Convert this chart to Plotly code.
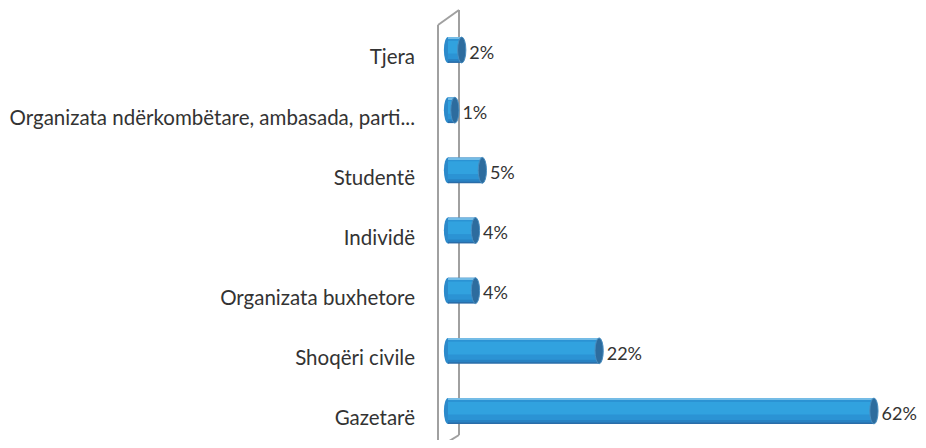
import plotly.graph_objects as go

categories = ["Gazetarë", "Shoqëri civile", "Organizata buxhetore", "Individë",
              "Studentë", "Organizata ndërkombëtare, ambasada, parti...", "Tjera"]
values = [62, 22, 4, 4, 5, 1, 2]
labels = [f"{v}%" for v in values]
ypos = list(range(len(categories)))

# page has an 8px body margin, so figure coordinates = page coordinates - 8
OFF = 8
W, H = 926 - 2 * OFF, 448 - 2 * OFF
L, R, T, B = 437 - OFF, 0, 10 - OFF, 0
ZERO_PX = 448          # page x of value 0
TOP_C, BOT_C = 50, 411  # page y of top / bottom bar centres
px_per_unit = 6.87
x0 = -((ZERO_PX - OFF) - L) / px_per_unit
x1 = x0 + (W - L - R) / px_per_unit
ypx = (BOT_C - TOP_C) / 6
y0 = -((H - B) - (BOT_C - OFF)) / ypx
y1 = 6 + ((TOP_C - OFF) - T) / ypx

HB = 0.215
CAP = 0.6
FONT = "Lato"

bands = [(-HB, HB, "#2A6CA8"), (-0.19, 0.205, "#2882C3"), (-0.15, 0.2, "#2B93D4"),
         (-0.06, 0.15, "#31A2DF"), (0.185, HB, "#74BCE6")]

fig = go.Figure()
for lo, hi, col in bands:
    fig.add_trace(go.Bar(y=ypos, x=values, orientation="h", width=hi - lo, offset=lo,
                         marker=dict(color=col, line=dict(width=0)), hoverinfo="skip"))
fig.add_trace(go.Scatter(y=[y - 0.07 for y in ypos], x=[v + CAP + 0.5 for v in values],
                         mode="text", text=labels, textposition="middle right",
                         cliponaxis=False,
                         textfont=dict(family=FONT, size=18, color="#333333"),
                         hoverinfo="skip"))

shapes = []
for yi, v in zip(ypos, values):
    shapes.append(dict(type="circle", xref="x", yref="y", layer="below",
                       x0=-CAP, x1=CAP, y0=yi - HB, y1=yi + HB,
                       fillcolor="#2B8ACB", line=dict(width=0)))
    shapes.append(dict(type="circle", xref="x", yref="y", layer="above",
                       x0=v - CAP, x1=v + CAP, y0=yi - HB, y1=yi + HB,
                       fillcolor="#2D6C9E", line=dict(color="#4A8EC0", width=1)))

def px(xp):
    return (xp - OFF - L) / (W - L - R)
def py(yp):
    return 1 - (yp - OFF - T) / (H - T - B)
wall = [((438, 25), (438, 448)), ((459, 10), (459, 435)),
        ((438, 25), (459, 10)), ((459, 435), (438, 448))]
for (a, b) in wall:
    shapes.append(dict(type="line", xref="paper", yref="paper", layer="below",
                       x0=px(a[0]), y0=py(a[1]), x1=px(b[0]), y1=py(b[1]),
                       line=dict(color="#A0A0A0", width=2)))

fig.update_layout(
    width=W, height=H, barmode="overlay", showlegend=False,
    margin=dict(l=L, r=R, t=T, b=B, pad=0),
    paper_bgcolor="white", plot_bgcolor="white",
    shapes=shapes,
    xaxis=dict(range=[x0, x1], visible=False, showgrid=False, zeroline=False),
    yaxis=dict(range=[y0, y1], tickvals=[y - 0.12 for y in ypos], ticktext=categories,
               showgrid=False, zeroline=False, showline=False, ticks="",
               ticklabelstandoff=21, automargin=False,
               tickfont=dict(family=FONT, size=20.5, color="#333333")),
)
fig.write_html("out.html")
